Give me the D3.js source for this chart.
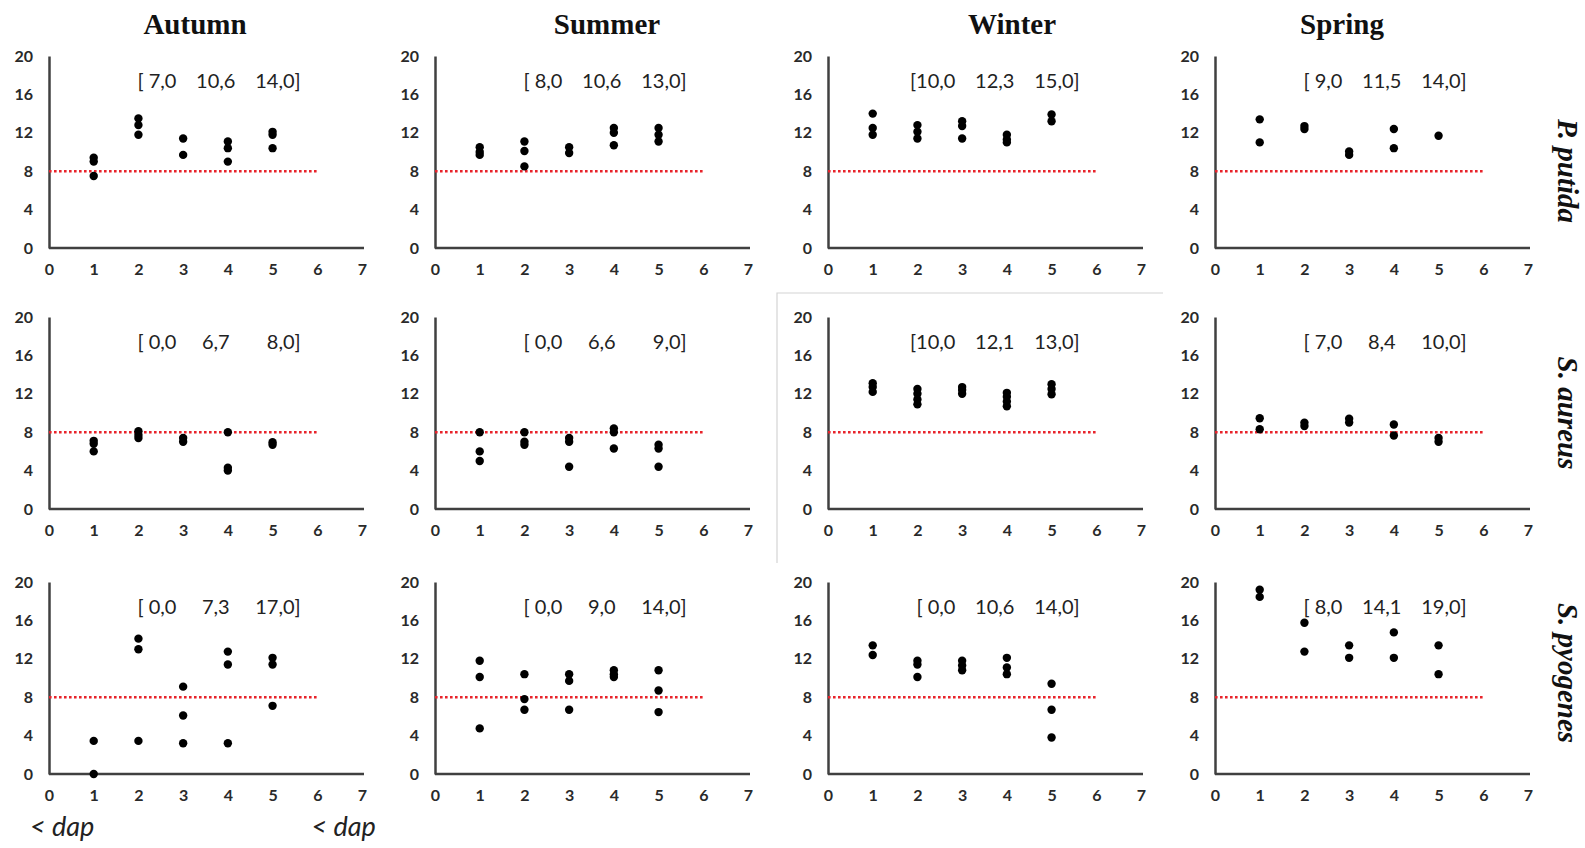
<!DOCTYPE html>
<html><head><meta charset="utf-8">
<script src="https://cdn.jsdelivr.net/npm/d3@7"></script>
<style>
html,body{margin:0;padding:0;background:#fff;}
svg{display:block;}
</style></head>
<body>
<svg id="chart" width="1585" height="848"></svg>
<script>
// ---------- DATA ----------
const seasons = ["Autumn", "Summer", "Winter", "Spring"];
const species = ["P. putida", "S. aureus", "S. pyogenes"];
const days = [1, 2, 3, 4, 5];
const xTickValues = [0, 1, 2, 3, 4, 5, 6, 7];
const yTickValues = [0, 4, 8, 12, 16, 20];
const threshold = 8;
const dapLabel = "< dap";

// values per day (index = day-1) for each species x season
const putidaAutumn = [[9.4, 9.0, 7.5], [13.5, 12.8, 11.8], [11.4, 9.7], [11.1, 10.4, 9.0], [12.1, 11.8, 10.4]];
const putidaSummer = [[10.5, 10.0, 9.7], [11.1, 10.1, 8.5], [10.5, 9.9], [12.5, 12.0, 10.7], [12.5, 11.8, 11.1]];
const putidaWinter = [[14.0, 12.5, 11.8], [12.8, 12.1, 11.4], [13.2, 12.7, 11.4], [11.8, 11.3, 11.0], [13.9, 13.2]];
const putidaSpring = [[13.4, 11.0], [12.7, 12.4], [10.05, 9.7], [12.4, 10.4], [11.7]];

const aureusAutumn = [[7.1, 6.8, 6.0], [8.1, 7.7, 7.4], [7.4, 7.0], [8.0, 4.3, 4.0], [6.95, 6.7]];
const aureusSummer = [[8.0, 6.0, 5.0], [8.0, 7.0, 6.7], [7.4, 7.0, 4.4], [8.4, 8.0, 6.3], [6.7, 6.3, 4.4]];
const aureusWinter = [[13.1, 12.7, 12.2], [12.5, 12.0, 11.4, 10.9], [12.7, 12.4, 12.0], [12.1, 11.7, 11.2, 10.7], [13.0, 12.5, 11.95]];
const aureusSpring = [[9.45, 8.3], [9.0, 8.65], [9.4, 9.0], [8.8, 7.65], [7.4, 7.0]];

const pyogenesAutumn = [[3.45, 0], [14.1, 13.0, 3.45], [9.1, 6.1, 3.2], [12.75, 11.4, 3.2], [12.1, 11.4, 7.1]];
const pyogenesSummer = [[11.8, 10.1, 4.75], [10.4, 7.8, 6.7], [10.4, 9.7, 6.7], [10.8, 10.4, 10.1], [10.8, 8.7, 6.45]];
const pyogenesWinter = [[13.4, 12.4], [11.8, 11.4, 10.1], [11.8, 11.3, 10.8], [12.1, 11.1, 10.4], [9.4, 6.7, 3.8]];
const pyogenesSpring = [[19.2, 18.45], [15.75, 12.75], [13.4, 12.1], [14.75, 12.1], [13.4, 10.4]];

// [min, mean, max] annotations
const putidaSummaries   = [["[ 7,0", "10,6", "14,0]"], ["[ 8,0", "10,6", "13,0]"], ["[10,0", "12,3", "15,0]"], ["[ 9,0", "11,5", "14,0]"]];
const aureusSummaries   = [["[ 0,0", "6,7", "8,0]"], ["[ 0,0", "6,6", "9,0]"], ["[10,0", "12,1", "13,0]"], ["[ 7,0", "8,4", "10,0]"]];
const pyogenesSummaries = [["[ 0,0", "7,3", "17,0]"], ["[ 0,0", "9,0", "14,0]"], ["[ 0,0", "10,6", "14,0]"], ["[ 8,0", "14,1", "19,0]"]];

const panelData = [
  [putidaAutumn, putidaSummer, putidaWinter, putidaSpring],
  [aureusAutumn, aureusSummer, aureusWinter, aureusSpring],
  [pyogenesAutumn, pyogenesSummer, pyogenesWinter, pyogenesSpring]
];
const panelSummaries = [putidaSummaries, aureusSummaries, pyogenesSummaries];

// ---------- LAYOUT ----------
const colX0 = [49, 435, 828, 1215];
const colWidth = 313;
const rowTop = [56, 317, 582];
const rowHeight = 192;
const titleCenters = [195, 607, 1012, 1342];
const titleBaseline = 34;
const speciesCenters = [171, 413, 673];
const speciesX = 1568;

const svg = d3.select("#chart");
const tickFont = "Lato, 'Open Sans', sans-serif";

// light gray frame around the Winter / S. aureus panel
svg.append("path")
  .attr("d", "M1163,293 H777 V563")
  .attr("fill", "none").attr("stroke", "#d4d4d4").attr("stroke-width", 1.2);

// Titles
svg.selectAll("text.season").data(seasons).join("text")
  .attr("class", "season")
  .attr("x", (d, i) => titleCenters[i]).attr("y", titleBaseline)
  .attr("text-anchor", "middle")
  .attr("font-family", "'Liberation Serif', 'Times New Roman', serif")
  .attr("font-weight", "bold").attr("font-size", 29).attr("fill", "#111")
  .text(d => d);

// Species labels (rotated)
svg.selectAll("text.species").data(species).join("text")
  .attr("class", "species")
  .attr("transform", (d, i) => `translate(${speciesX},${speciesCenters[i]}) rotate(90)`)
  .attr("text-anchor", "middle").attr("dominant-baseline", "central")
  .attr("font-family", "'Liberation Serif', 'Times New Roman', serif")
  .attr("font-style", "italic").attr("font-weight", "bold").attr("font-size", 29).attr("fill", "#111")
  .text(d => d);

species.forEach((sp, r) => {
  seasons.forEach((se, c) => {
    const x = d3.scaleLinear().domain([0, 7]).range([colX0[c], colX0[c] + colWidth]);
    const y = d3.scaleLinear().domain([0, 20]).range([rowTop[r] + rowHeight, rowTop[r]]);
    const g = svg.append("g");

    // Y axis
    const yAxis = d3.axisLeft(y).tickValues(yTickValues).tickFormat(d3.format("d")).tickSize(0).tickPadding(16);
    const ya = g.append("g").attr("transform", `translate(${x(0)},0)`).call(yAxis);
    ya.select(".domain").attr("stroke", "#404040").attr("stroke-width", 2.5);
    ya.selectAll("text").attr("font-family", tickFont).attr("font-weight", "bold")
      .attr("font-size", 16).attr("fill", "#2a2a2a");

    // X axis
    const xAxis = d3.axisBottom(x).tickValues(xTickValues).tickFormat(d3.format("d")).tickSize(0).tickPadding(16);
    const xa = g.append("g").attr("transform", `translate(0,${y(0)})`).call(xAxis);
    xa.select(".domain").attr("stroke", "#404040").attr("stroke-width", 2.5)
      .attr("d", `M${x(0)},0H${x(7) + 2}`);
    xa.selectAll("text").attr("font-family", tickFont).attr("font-weight", "bold")
      .attr("font-size", 16).attr("fill", "#2a2a2a");

    // Threshold line
    g.append("line")
      .attr("x1", x(0)).attr("x2", x(6))
      .attr("y1", y(threshold)).attr("y2", y(threshold))
      .attr("stroke", "#e8232b").attr("stroke-width", 2.6)
      .attr("stroke-dasharray", "2.6,2.4");

    // Points
    const pts = [];
    panelData[r][c].forEach((vals, i) => vals.forEach(v => pts.push({ d: days[i], v })));
    g.selectAll("circle").data(pts).join("circle")
      .attr("cx", p => x(p.d)).attr("cy", p => y(p.v)).attr("r", 4.2).attr("fill", "#000");

    // Summary annotation
    const s = panelSummaries[r][c];
    const ay = y(17.5);
    const ann = g.append("g").attr("font-family", tickFont).attr("font-size", 20).attr("fill", "#222")
      .attr("dominant-baseline", "central").style("white-space", "pre");
    ann.append("text").attr("x", x(2.85)).attr("y", ay).attr("text-anchor", "end").text(s[0]);
    ann.append("text").attr("x", x(3.73)).attr("y", ay).attr("text-anchor", "middle").text(s[1]);
    ann.append("text").attr("x", x(5.63)).attr("y", ay).attr("text-anchor", "end").text(s[2]);

    // "< dap" markers on bottom-left panel
    if (r === 2 && c === 0) {
      const dy = y(0) + 62;
      g.append("text").attr("x", x(0) - 19).attr("y", dy)
        .attr("font-family", tickFont).attr("font-style", "italic").attr("font-size", 27).attr("fill", "#222")
        .text(dapLabel);
      g.append("text").attr("x", x(5.87)).attr("y", dy)
        .attr("font-family", tickFont).attr("font-style", "italic").attr("font-size", 27).attr("fill", "#222")
        .text(dapLabel);
    }
  });
});
</script>
</body></html>
